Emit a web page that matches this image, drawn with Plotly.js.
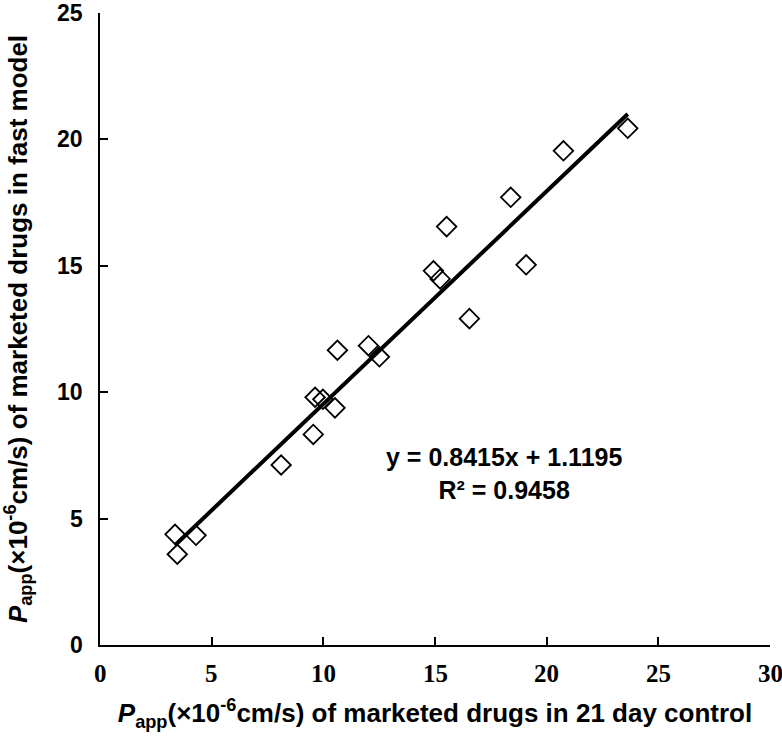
<!DOCTYPE html>
<html>
<head>
<meta charset="utf-8">
<script src="https://cdn.plot.ly/plotly-3.0.1.min.js"></script>
<style>html,body{margin:0;padding:0;background:#fff;}#chart{width:782px;height:742px;}</style>
</head>
<body>
<div id="chart"></div>
<script>
// Papp values (x10^-6 cm/s)
const control21Day = [23.63, 20.75, 18.39, 15.52, 14.93, 15.23, 19.08, 16.54, 10.63, 12.02, 12.51, 9.63, 9.98, 10.52, 9.55, 8.11, 3.36, 4.30, 3.46];
const fastModel    = [20.44, 19.55, 17.71, 16.55, 14.80, 14.48, 15.04, 12.91, 11.66, 11.84, 11.40, 9.80, 9.72, 9.38, 8.33, 7.12, 4.38, 4.34, 3.59];
const slope = 0.8415;
const intercept = 1.1195;
const rSquared = 0.9458;
const xTicks = [0, 5, 10, 15, 20, 25, 30];
const yTicks = [0, 5, 10, 15, 20, 25];

const xMin = Math.min(...control21Day);
const xMax = Math.max(...control21Day);
const fitX = [xMin, xMax];
const fitY = fitX.map(v => slope * v + intercept);

const traces = [
  {
    x: fitX, y: fitY, type: 'scatter', mode: 'lines',
    line: {color: '#000', width: 4}, hoverinfo: 'skip', showlegend: false
  },
  {
    x: control21Day, y: fastModel, type: 'scatter', mode: 'markers',
    marker: {symbol: 'diamond-open', size: 15, color: '#000', line: {color: '#000', width: 1.8}},
    showlegend: false
  }
];

const sans = 'Liberation Sans, Arial, sans-serif';
const serif = 'Liberation Serif, Times New Roman, serif';

// tick labels placed on the axes' own scales
const xTickLabels = xTicks.map(v => ({
  x: v, xref: 'x', y: 0, yref: 'paper', yanchor: 'top', xanchor: 'center',
  yshift: -13, text: '<b>' + v + '</b>', showarrow: false,
  font: {family: serif, size: 25, color: '#000'}
}));
const yTickLabels = yTicks.map(v => ({
  x: 0, xref: 'paper', y: v, yref: 'y', xanchor: 'right', yanchor: 'middle',
  xshift: -15, text: '<b>' + v + '</b>', showarrow: false,
  font: {family: sans, size: 23, color: '#000'}
}));

const layout = {
  width: 782, height: 742,
  margin: {l: 100, r: 12, t: 13, b: 97},
  paper_bgcolor: '#fff', plot_bgcolor: '#fff',
  font: {family: sans, size: 22, color: '#000'},
  showlegend: false,
  xaxis: {
    range: [0, 30], tickmode: 'array', tickvals: xTicks, showticklabels: false,
    showgrid: false, zeroline: false,
    showline: true, linecolor: '#000', linewidth: 2,
    ticks: 'inside', ticklen: 8, tickwidth: 2, tickcolor: '#000',
    title: {
      text: '<b><i>P</i><sub>app</sub>(×10<sup>-6</sup>cm/s) of marketed drugs in 21 day control</b>',
      font: {family: sans, size: 26, color: '#000'},
      standoff: 58
    }
  },
  yaxis: {
    range: [0, 25], tickmode: 'array', tickvals: yTicks, showticklabels: false,
    showgrid: false, zeroline: false,
    showline: true, linecolor: '#000', linewidth: 2,
    ticks: 'inside', ticklen: 8, tickwidth: 2, tickcolor: '#000',
    title: {
      text: '<b><i>P</i><sub>app</sub>(×10<sup>-6</sup>cm/s) of marketed drugs in fast model</b>',
      font: {family: sans, size: 26, color: '#000'},
      standoff: 66
    }
  },
  annotations: xTickLabels.concat(yTickLabels, [
    {
      x: 18.1, y: (646 - 474) / 25.33, xref: 'x', yref: 'y',
      text: '<b>y = ' + slope.toFixed(4) + 'x + ' + intercept.toFixed(4) + '<br>R² = ' + rSquared.toFixed(4) + '</b>',
      showarrow: false, align: 'center',
      font: {family: sans, size: 25, color: '#000'}
    }
  ])
};

Plotly.newPlot('chart', traces, layout, {displayModeBar: false, staticPlot: true});
</script>
</body>
</html>
